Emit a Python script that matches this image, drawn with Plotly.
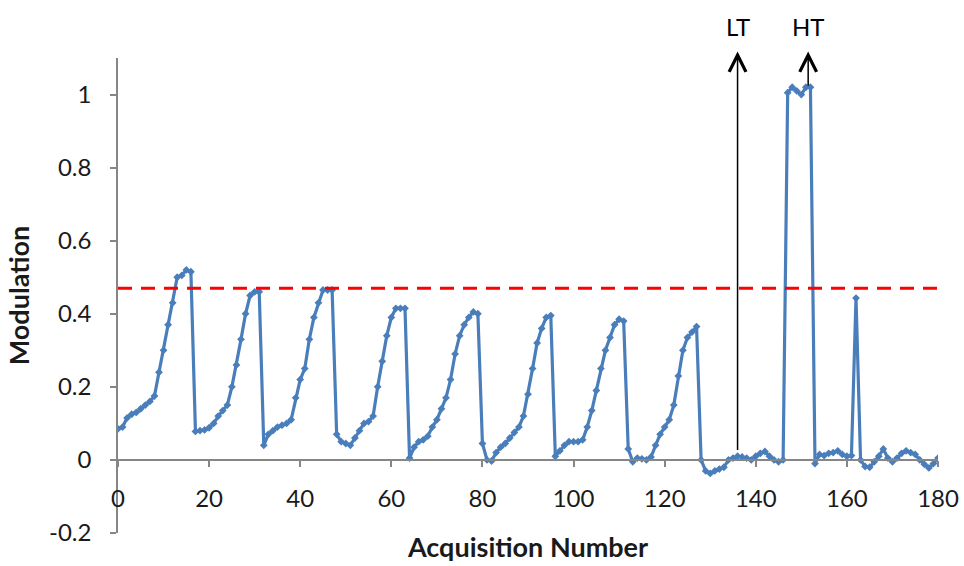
import plotly.graph_objects as go

# Acquisition index and measured modulation for each acquisition
acquisition = list(range(0, 181))
modulation = [
    0.085, 0.09, 0.115, 0.125, 0.13, 0.14, 0.15, 0.16, 0.175, 0.24,
    0.30, 0.37, 0.43, 0.50, 0.505, 0.52, 0.515, 0.078, 0.08, 0.082,
    0.088, 0.10, 0.12, 0.135, 0.15, 0.20, 0.26, 0.33, 0.40, 0.45,
    0.46, 0.46, 0.04, 0.07, 0.08, 0.09, 0.095, 0.10, 0.11, 0.17,
    0.22, 0.25, 0.33, 0.39, 0.43, 0.465, 0.465, 0.465, 0.07, 0.05,
    0.045, 0.04, 0.06, 0.08, 0.10, 0.105, 0.12, 0.20, 0.27, 0.34,
    0.39, 0.415, 0.415, 0.415, 0.005, 0.035, 0.05, 0.055, 0.065, 0.09,
    0.11, 0.14, 0.17, 0.22, 0.29, 0.34, 0.37, 0.39, 0.405, 0.40,
    0.045, 0.0, -0.003, 0.02, 0.035, 0.045, 0.06, 0.075, 0.09, 0.12,
    0.18, 0.25, 0.32, 0.36, 0.39, 0.395, 0.01, 0.025, 0.04, 0.05,
    0.05, 0.05, 0.055, 0.09, 0.135, 0.19, 0.25, 0.30, 0.335, 0.37,
    0.385, 0.38, 0.03, -0.005, 0.005, 0.003, 0.0, 0.008, 0.04, 0.07,
    0.09, 0.11, 0.15, 0.23, 0.30, 0.335, 0.35, 0.365, 0.0, -0.03,
    -0.037, -0.03, -0.025, -0.02, 0.0, 0.005, 0.01, 0.008, 0.005, 0.0,
    0.01, 0.018, 0.023, 0.01, 0.0, -0.005, 0.0, 1.005, 1.02, 1.01,
    1.0, 1.02, 1.02, -0.01, 0.015, 0.012, 0.018, 0.02, 0.025, 0.015,
    0.01, 0.012, 0.443, 0.0, -0.018, -0.02, -0.005, 0.01, 0.03, 0.005,
    -0.005, 0.005, 0.018, 0.025, 0.02, 0.015, 0.0, -0.012, -0.022, -0.01,
    0.005,
]

# Detection threshold
threshold = 0.47

# Marked acquisitions: (label, acquisition, arrow base)
markers = [("LT", 136, 0.023), ("HT", 151.5, 1.02)]
arrow_top = 1.118

x_range = [0, 180]
y_range = [-0.2, 1.1]
x_ticks = [0, 20, 40, 60, 80, 100, 120, 140, 160, 180]
y_ticks = [-0.2, 0, 0.2, 0.4, 0.6, 0.8, 1.0]
y_tick_labels = ["-0.2", "0", "0.2", "0.4", "0.6", "0.8", "1"]

FONT = "Lato"
AXIS_GREY = "#868686"
BLUE = "#4A7EBB"
TEXT = "#1a1a1a"

fig = go.Figure()

fig.add_trace(go.Scatter(
    x=acquisition, y=modulation, mode="lines+markers",
    line=dict(color=BLUE, width=3.2),
    marker=dict(symbol="diamond", size=6, color=BLUE),
    showlegend=False, hoverinfo="x+y",
))

fig.add_trace(go.Scatter(
    x=x_range, y=[threshold, threshold], mode="lines",
    line=dict(color="#FF0000", width=3, dash="14px,9px"),
    showlegend=False, hoverinfo="skip",
))

annotations = []
for label, xpos, base in markers:
    annotations.append(dict(
        x=xpos, y=arrow_top, xref="x", yref="y",
        ax=xpos, ay=base, axref="x", ayref="y",
        text="", showarrow=True, arrowhead=5, arrowsize=2.2,
        arrowwidth=1.5, arrowcolor="black", standoff=0, startstandoff=0,
    ))
    annotations.append(dict(
        x=xpos, y=1.066, xref="x", yref="paper",
        text=label, showarrow=False, yanchor="middle", xanchor="center",
        font=dict(family=FONT, size=24, color="black"),
    ))

x_axis_pos = (0 - y_range[0]) / (y_range[1] - y_range[0])

fig.update_layout(
    width=964, height=566,
    margin=dict(l=118, r=26, t=58, b=33),
    paper_bgcolor="white", plot_bgcolor="white",
    font=dict(family=FONT, size=24, color=TEXT),
    annotations=annotations,
    xaxis=dict(
        range=x_range, tickvals=x_ticks, showgrid=False, zeroline=False,
        showline=True, linecolor=AXIS_GREY, linewidth=1.5,
        ticks="outside", ticklen=6, tickcolor=AXIS_GREY, tickwidth=1.5,
        anchor="free", position=x_axis_pos, ticklabelstandoff=12,
        automargin=False,
        title=dict(text="<b>Acquisition Number</b>", standoff=26,
                   font=dict(family=FONT, size=27, color=TEXT)),
    ),
    yaxis=dict(
        range=y_range, tickvals=y_ticks, ticktext=y_tick_labels,
        showgrid=False, zeroline=False,
        showline=True, linecolor=AXIS_GREY, linewidth=1.5,
        ticks="outside", ticklen=6, tickcolor=AXIS_GREY, tickwidth=1.5,
        ticklabelstandoff=14, automargin=False,
        title=dict(text="<b>Modulation</b>", standoff=12,
                   font=dict(family=FONT, size=27, color=TEXT)),
    ),
)

fig.write_html("out.html")
